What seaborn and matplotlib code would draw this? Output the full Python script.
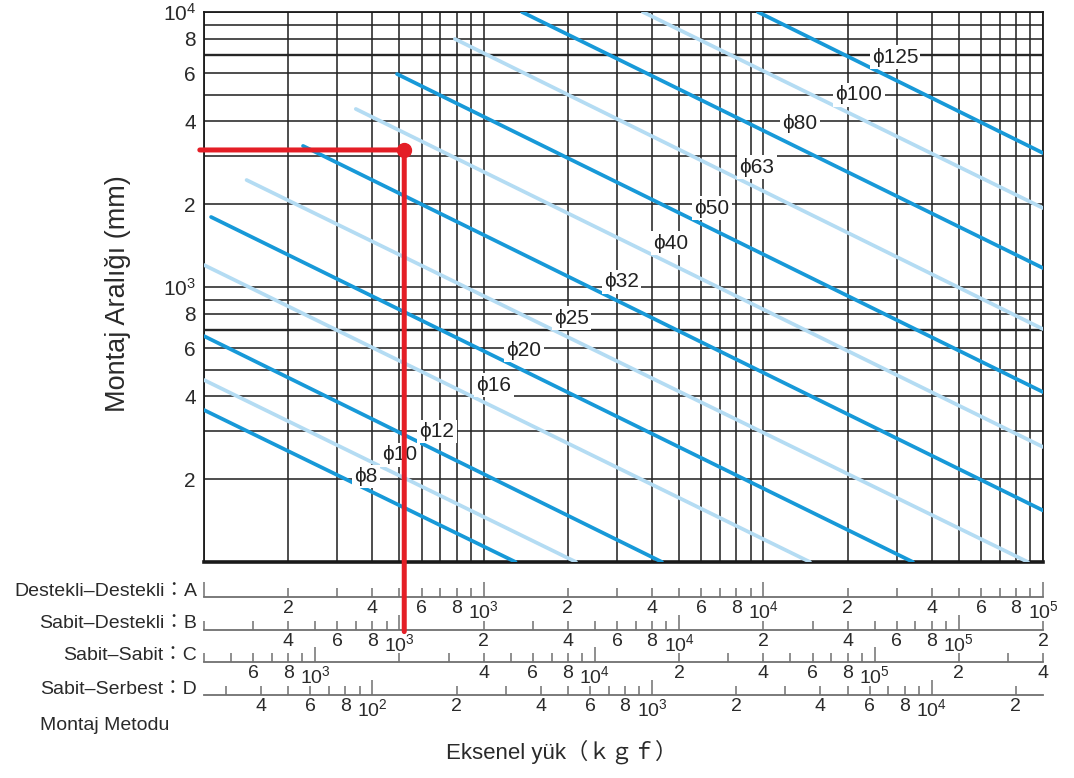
import numpy as np
import pandas as pd
import matplotlib.pyplot as plt
import seaborn as sns
from matplotlib.patches import ConnectionPatch

# Screw shaft diameters and the ends of each line
# (load on scale A in kgf, mounting distance in mm)
diameters = [8, 10, 12, 16, 20, 25, 32, 40, 50, 63, 80, 100, 125]
start_load = [100, 100, 100, 100, 106, 142, 226, 349, 490, 789, 1371, 3711, 9565]
start_len = [357, 459, 663, 1202, 1797, 2449, 3258, 4440, 5950, 7980, 10000, 10000, 10000]
end_load = [1300, 2138, 4340, 14680, 34270, 88300, 1e5, 1e5, 1e5, 1e5, 1e5, 1e5, 1e5]
end_len = [100, 100, 100, 100, 100, 100, 154, 262, 415, 703, 1172, 1937, 3070]

# where the diameter labels sit
label_load = [380, 502, 681, 1089, 1393, 2069, 3122, 4675, 6546, 9487, 13520, 21980, 29540]
label_len = [204, 245, 299, 440, 590, 771, 1043, 1445, 1937, 2731, 3917, 4991, 6858]

# mounting method scales below the chart, as multiples of scale A
scale_names = ["Destekli–Destekli：A", "Sabit–Destekli：B", "Sabit–Sabit：C", "Sabit–Serbest：D"]
scale_factors = [1, 2, 4, 0.25]
scale_hidden = [[], [], [2000], []]  # labels covered by the red line

# worked example (red)
example_load = 520   # on scale A
example_len = 3150

dark_blue = "#1799d8"
light_blue = "#b4dcf3"
red = "#e41e26"
grid_col = "#262626"

sns.set_style("white")
plt.rcParams["font.family"] = ["Liberation Sans", "DejaVu Sans", "Noto Sans CJK JP"]
plt.rcParams["mathtext.fontset"] = "custom"
plt.rcParams["mathtext.rm"] = "Liberation Sans"
plt.rcParams["mathtext.it"] = "Liberation Sans:italic"
plt.rcParams["mathtext.bf"] = "Liberation Sans:bold"

W, H = 1074, 778
fig = plt.figure(figsize=(W / 100, H / 100), dpi=100)


def box(x0, y0, x1, y1):
    # pixel box -> figure fractions
    return [x0 / W, 1 - y1 / H, (x1 - x0) / W, (y1 - y0) / H]


def log_ticks(lo, hi):
    major, minor = [], []
    for e in range(int(np.floor(np.log10(lo))), int(np.ceil(np.log10(hi))) + 1):
        for k in range(1, 10):
            v = k * 10.0 ** e
            if lo * 0.999 <= v <= hi * 1.001:
                (major if k == 1 else minor).append(v)
    return major, minor


def tick_text(v, skip=()):
    if any(abs(v - s) < 1e-6 * s for s in skip):
        return ""
    e = int(np.floor(np.log10(v) + 1e-9))
    k = int(round(v / 10 ** e))
    if k == 1:
        return r"$10^{%d}$" % e
    return str(k) if k in (2, 4, 6, 8) else ""


# ---- main chart
ax = fig.add_axes(box(204, 12, 1043, 562))
ax.set_xscale("log")
ax.set_yscale("log")
ax.set_xlim(100, 1e5)
ax.set_ylim(100, 1e4)

xmaj, xmin_ = log_ticks(100, 1e5)
ax.set_xticks(xmaj)
ax.set_xticks(xmin_, minor=True)
ax.tick_params(axis="x", which="both", length=0, labelbottom=False)

ymaj, ymin_ = log_ticks(100, 1e4)
ax.set_yticks(ymaj, labels=[tick_text(v, skip=[100]) for v in ymaj])
ax.set_yticks(ymin_, labels=[tick_text(v) for v in ymin_], minor=True)
ax.tick_params(axis="y", which="both", length=0, pad=6, labelsize=15, labelcolor="#2a2a2a")

ax.grid(True, which="both", color=grid_col, lw=1.15)
for v in [700, 7000]:
    ax.axhline(v, color=grid_col, lw=1.7, zorder=0.6)
for name, s in ax.spines.items():
    s.set_color("#1a1a1a")
    s.set_linewidth(2.6 if name == "bottom" else 1.3)

rows = []
for d, x0, y0, x1, y1 in zip(diameters, start_load, start_len, end_load, end_len):
    rows.append({"dia": f"d{d}", "load": x0, "length": y0})
    rows.append({"dia": f"d{d}", "load": x1, "length": y1})
df = pd.DataFrame(rows)
palette = {f"d{d}": (dark_blue if i % 2 == 0 else light_blue) for i, d in enumerate(diameters)}
sns.lineplot(data=df, x="load", y="length", hue="dia", palette=palette, estimator=None,
             lw=2.7, legend=False, ax=ax, zorder=3)
ax.set_xlabel("")
ax.set_ylabel("")

for d, lx, ly in zip(diameters, label_load, label_len):
    ax.text(lx, ly, f"ϕ{d}", ha="center", va="center", fontsize=15, color="#222222",
            bbox=dict(fc="white", ec="none", pad=1.5), zorder=4)

# ---- mounting method scales
scale_axes = []
for i, (name, f) in enumerate(zip(scale_names, scale_factors)):
    yl = [597, 630, 662, 695][i]
    axs = fig.add_axes(box(204, yl - 16, 1043, yl))
    axs.set_xscale("log")
    lo, hi = 100 * f, 1e5 * f
    axs.set_xlim(lo, hi)
    axs.set_ylim(0, 1)
    axs.set_yticks([])
    axs.patch.set_alpha(0)
    for s in ["top", "left", "right"]:
        axs.spines[s].set_visible(False)
    axs.spines["bottom"].set_color("#707070")
    axs.spines["bottom"].set_linewidth(1.3)
    maj, mn = log_ticks(lo, hi)
    skip = [lo] + scale_hidden[i]
    axs.set_xticks(maj, labels=[tick_text(v, skip) for v in maj])
    axs.set_xticks(mn, labels=[tick_text(v, skip) for v in mn], minor=True)
    axs.tick_params(which="both", bottom=True, direction="in", color="#707070", width=1.1,
                    labelsize=14, labelcolor="#2a2a2a", pad=2)
    axs.tick_params(which="major", length=11)
    axs.tick_params(which="minor", length=6.5)
    axs.text(-0.008, 6 / 16, name, transform=axs.transAxes, ha="right", va="center",
             fontsize=14, color="#2a2a2a")
    scale_axes.append(axs)

fig.text(105 / W, 1 - 725 / H, "Montaj Metodu", ha="center", va="center", fontsize=14,
         color="#2a2a2a")
fig.text(562 / W, 1 - 752 / H, "Eksenel yük（ｋｇｆ）", ha="center", va="center",
         fontsize=16, color="#2a2a2a")
fig.text(118 / W, 1 - 294 / H, "Montaj Aralığı (mm)", ha="center", va="center",
         rotation=90, fontsize=19.5, color="#2a2a2a")

# ---- red example reading
h_line = ConnectionPatch(xyA=(-0.005, example_len), coordsA=ax.get_yaxis_transform(),
                         xyB=(example_load, example_len), coordsB=ax.transData,
                         color=red, lw=3.6, zorder=6)
fig.add_artist(h_line)
v_line = ConnectionPatch(xyA=(example_load, example_len), coordsA=ax.transData,
                         xyB=(example_load * scale_factors[1], -0.1),
                         coordsB=scale_axes[1].get_xaxis_transform(),
                         color=red, lw=3.6, zorder=6)
fig.add_artist(v_line)
ax.plot([example_load], [example_len], "o", ms=10, color=red, zorder=7, clip_on=False)

fig.savefig("out.png", dpi=100)
plt.close(fig)
